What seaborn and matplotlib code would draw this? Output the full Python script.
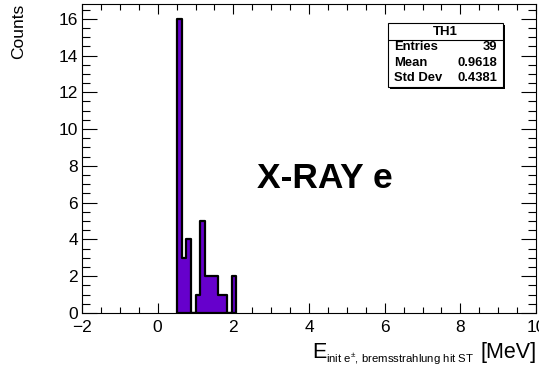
import numpy as np
import pandas as pd
import seaborn as sns
import matplotlib
matplotlib.use("Agg")
import matplotlib.pyplot as plt
from matplotlib.ticker import MultipleLocator
from matplotlib.patches import Rectangle
from matplotlib.lines import Line2D

# ---- data ----
bin_edges = [0.52, 0.64, 0.76, 0.88, 1.00, 1.12, 1.24, 1.36, 1.48, 1.60, 1.72, 1.84, 1.96, 2.08]
counts = [16, 3, 4, 0, 1, 5, 2, 2, 2, 1, 1, 0, 2]
stats_title = "TH1"
stats_names = ["Entries", "Mean", "Std Dev"]
stats_values = ["39", "0.9618", "0.4381"]
x_range = [-2, 10]
y_max = 16.8

centers = [(a + b) / 2 for a, b in zip(bin_edges[:-1], bin_edges[1:])]
df = pd.DataFrame({"E": centers, "w": counts})

sns.set_theme(style="ticks")
plt.rcParams["font.family"] = ["Liberation Sans", "DejaVu Sans"]
plt.rcParams["mathtext.fontset"] = "custom"
plt.rcParams["mathtext.rm"] = "Liberation Sans"
plt.rcParams["mathtext.it"] = "Liberation Sans"
plt.rcParams["mathtext.bf"] = "Liberation Sans:bold"
plt.rcParams["text.color"] = "black"
plt.rcParams["axes.labelcolor"] = "black"
plt.rcParams["xtick.color"] = "black"
plt.rcParams["ytick.color"] = "black"

W, H = 539, 369
fig = plt.figure(figsize=(W / 100, H / 100), dpi=100)
fig.patch.set_facecolor("white")

def fx(px):
    return px / W

def fy(py):
    return 1 - py / H

ax = fig.add_axes([fx(82), fy(313), fx(536) - fx(82), fy(4) - fy(313)])

sns.histplot(data=df, x="E", weights="w", bins=bin_edges, element="step",
             fill=True, color="#6600CC", edgecolor="black", linewidth=1.6,
             alpha=1, ax=ax)

ax.set_xlim(*x_range)
ax.set_ylim(0, y_max)
ax.set_xlabel("")
ax.set_ylabel("")
ax.xaxis.set_major_locator(MultipleLocator(2))
ax.xaxis.set_minor_locator(MultipleLocator(0.5))
ax.yaxis.set_major_locator(MultipleLocator(2))
ax.yaxis.set_minor_locator(MultipleLocator(0.5))
for s in ax.spines.values():
    s.set_visible(True)
    s.set_linewidth(0.8)
    s.set_color("black")
ax.tick_params(axis="x", which="major", direction="in", length=7.5, width=0.8,
               top=True, bottom=True, labelsize=12.5, pad=5, colors="black")
ax.tick_params(axis="x", which="minor", direction="in", length=4, width=0.8,
               top=True, bottom=True)
ax.tick_params(axis="y", which="major", direction="in", length=10.5, width=0.8,
               left=True, right=True, labelsize=12.5, pad=3, colors="black")
ax.tick_params(axis="y", which="minor", direction="in", length=5.5, width=0.8,
               left=True, right=True)
ax.set_facecolor("white")

# y axis title
fig.text(fx(19), fy(4), "Counts", rotation=90, ha="center", va="top", fontsize=12.5)

# x axis title built from pieces
fig.text(fx(312), fy(358), "E", ha="left", va="baseline", fontsize=15.5)
fig.text(fx(326), fy(363), "init e$^{\\pm}$, bremsstrahlung hit ST", ha="left",
         va="baseline", fontsize=8.2)
fig.text(fx(537), fy(358), "[MeV]", ha="right", va="baseline", fontsize=15.5)

# big label
ax.text(0.535, 1 - (188 - 4) / 309, "X-RAY e", transform=ax.transAxes,
        ha="center", va="baseline", fontsize=25.5, fontweight="bold")

# stats box
bx0, bx1, by0, by1 = 388, 503, 23, 87
shadow = Rectangle((fx(bx0 + 2), fy(by1 + 2)), fx(bx1) - fx(bx0), fy(by0) - fy(by1),
                   transform=fig.transFigure, facecolor="black", edgecolor="none", zorder=5)
box = Rectangle((fx(bx0), fy(by1)), fx(bx1) - fx(bx0), fy(by0) - fy(by1),
                transform=fig.transFigure, facecolor="white", edgecolor="black",
                linewidth=0.8, zorder=6)
fig.add_artist(shadow)
fig.add_artist(box)
fig.add_artist(Line2D([fx(bx0), fx(bx1)], [fy(39.5), fy(39.5)], color="black",
                      linewidth=0.8, transform=fig.transFigure, zorder=7))
fig.text(fx((bx0 + bx1) / 2), fy(32), stats_title, ha="center", va="center",
         fontsize=9.5, fontweight="bold", zorder=8)
for i, (n, v) in enumerate(zip(stats_names, stats_values)):
    yc = 47 + i * 15.5
    fig.text(fx(394), fy(yc), n, ha="left", va="center", fontsize=9.4,
             fontweight="bold", zorder=8)
    fig.text(fx(497), fy(yc), v, ha="right", va="center", fontsize=9.4,
             fontweight="bold", zorder=8)

fig.savefig("out.png", dpi=100, facecolor="white")
